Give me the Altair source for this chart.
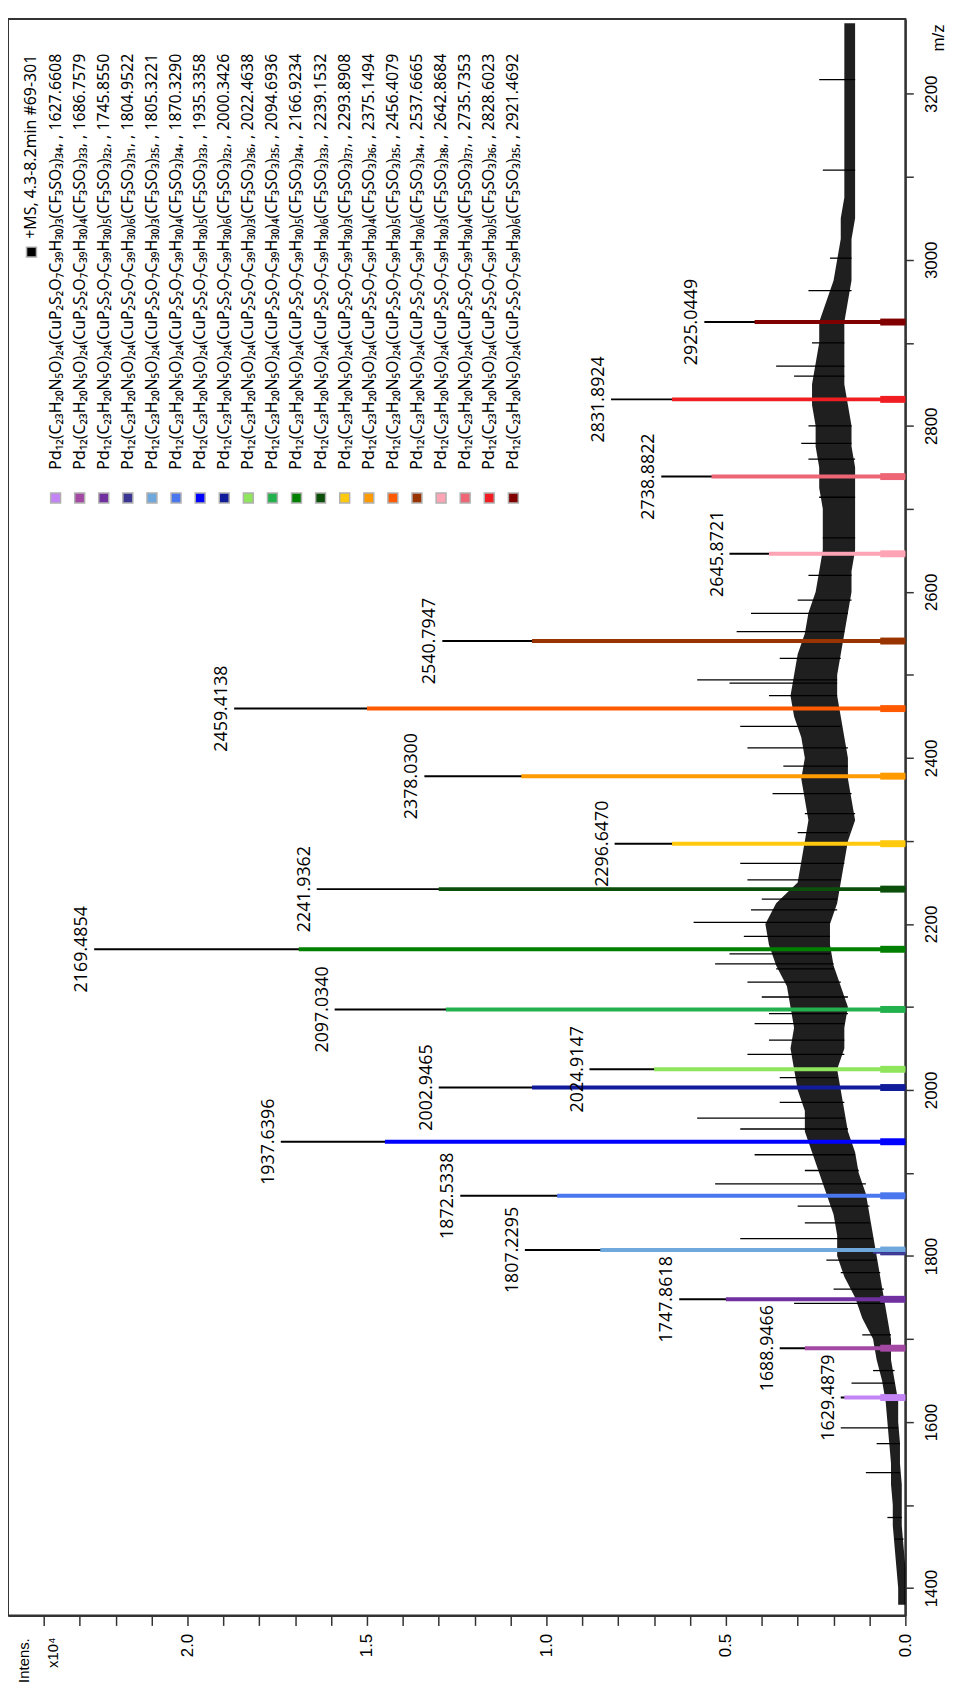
import altair as alt
import pandas as pd

# ---------------- data ----------------
# black spectrum: noise band (low / high envelope) sampled along m/z
BAND_MZ = [1380, 1400, 1425, 1450, 1475, 1500, 1525, 1550, 1575, 1600, 1625, 1650, 1675, 1700,
           1725, 1750, 1775, 1800, 1825, 1850, 1875, 1900, 1925, 1950, 1975, 2000, 2025, 2050,
           2075, 2100, 2125, 2150, 2175, 2200, 2225, 2250, 2275, 2300, 2325, 2350, 2375, 2400,
           2425, 2450, 2475, 2500, 2525, 2550, 2575, 2600, 2625, 2650, 2675, 2700, 2725, 2750,
           2775, 2800, 2825, 2850, 2875, 2900, 2925, 2950, 2975, 3000, 3025, 3050, 3075, 3100,
           3125, 3150, 3175, 3200, 3225, 3250, 3275, 3285]
BAND_LO = [0.00, 0.00, 0.00, 0.005, 0.01, 0.01, 0.01, 0.015, 0.015, 0.02, 0.02, 0.03, 0.04, 0.04,
           0.05, 0.06, 0.07, 0.08, 0.09, 0.10, 0.11, 0.13, 0.14, 0.16, 0.17, 0.18, 0.19, 0.17,
           0.17, 0.16, 0.18, 0.20, 0.21, 0.21, 0.19, 0.18, 0.17, 0.16, 0.14, 0.15, 0.16, 0.16,
           0.17, 0.18, 0.19, 0.19, 0.18, 0.17, 0.16, 0.15, 0.15, 0.14, 0.14, 0.14, 0.14, 0.14,
           0.15, 0.15, 0.16, 0.17, 0.17, 0.17, 0.17, 0.16, 0.15, 0.15, 0.15, 0.14, 0.14, 0.14,
           0.14, 0.14, 0.14, 0.14, 0.14, 0.14, 0.14, 0.14]
BAND_HI = [0.02, 0.02, 0.025, 0.03, 0.035, 0.035, 0.04, 0.04, 0.045, 0.05, 0.055, 0.065, 0.08, 0.09,
           0.12, 0.14, 0.17, 0.19, 0.19, 0.20, 0.22, 0.24, 0.26, 0.28, 0.28, 0.30, 0.31, 0.32,
           0.31, 0.32, 0.33, 0.36, 0.38, 0.39, 0.36, 0.30, 0.29, 0.28, 0.27, 0.28, 0.29, 0.28,
           0.29, 0.31, 0.32, 0.31, 0.30, 0.28, 0.27, 0.25, 0.24, 0.23, 0.23, 0.23, 0.24, 0.24,
           0.25, 0.25, 0.26, 0.26, 0.25, 0.24, 0.24, 0.22, 0.20, 0.19, 0.18, 0.18, 0.17, 0.17,
           0.17, 0.17, 0.17, 0.17, 0.17, 0.17, 0.17, 0.17]

# unlabelled spikes of the black spectrum
SPIKE_MZ = [1459, 1485, 1539, 1574, 1593, 1647, 1662, 1705, 1743, 1760, 1780, 1795, 1821, 1840,
            1860, 1887, 1903, 1922, 1953, 1966, 1985, 2015, 2043, 2060, 2080, 2092, 2112, 2130,
            2146, 2152, 2164, 2185, 2202, 2217, 2230, 2253, 2273, 2310, 2333, 2357, 2390, 2412,
            2438, 2475, 2490, 2494, 2520, 2552, 2574, 2590, 2620, 2665, 2714, 2760, 2779, 2800,
            2860, 2872, 2900, 2963, 3002, 3108, 3217]
SPIKE_I = [0.03, 0.05, 0.11, 0.08, 0.18, 0.15, 0.09, 0.12, 0.31, 0.20, 0.18, 0.22, 0.46, 0.28,
           0.30, 0.53, 0.28, 0.42, 0.46, 0.58, 0.35, 0.35, 0.44, 0.38, 0.42, 0.38, 0.40, 0.44,
           0.36, 0.53, 0.49, 0.45, 0.59, 0.43, 0.40, 0.44, 0.46, 0.30, 0.28, 0.37, 0.34, 0.44,
           0.46, 0.38, 0.49, 0.58, 0.35, 0.47, 0.43, 0.30, 0.27, 0.23, 0.24, 0.27, 0.29, 0.27,
           0.31, 0.36, 0.26, 0.27, 0.21, 0.23, 0.24]

# labelled peaks (m/z, intensity x10^4)
PEAK_LABEL = ["1629.4879", "1688.9466", "1747.8618", "1807.2295", "1872.5338", "1937.6396",
              "2002.9465", "2024.9147", "2097.0340", "2169.4854", "2241.9362", "2296.6470",
              "2378.0300", "2459.4138", "2540.7947", "2645.8721", "2738.8822", "2831.8924",
              "2925.0449"]
PEAK_I = [0.18, 0.35, 0.63, 1.06, 1.24, 1.74, 1.30, 0.88, 1.59, 2.26, 1.64, 0.81, 1.34, 1.87,
          1.29, 0.49, 0.68, 0.82, 0.56]

# simulated isotope patterns (legend order)
SIM_MZ = [1629.49, 1688.95, 1747.86, 1805.0, 1807.23, 1872.53, 1937.64, 2002.95, 2024.91,
          2097.03, 2169.49, 2241.94, 2296.65, 2378.03, 2459.41, 2540.79, 2645.87, 2738.88,
          2831.89, 2925.04]
SIM_I = [0.17, 0.28, 0.50, 0.09, 0.85, 0.97, 1.45, 1.04, 0.70, 1.28, 1.69, 1.30, 0.65, 1.07,
         1.50, 1.04, 0.38, 0.54, 0.65, 0.42]
SIM_COLOR = ["#c384f5", "#a349a4", "#7030a0", "#3b3593", "#6fa8dc", "#4a76ee", "#0000ff",
             "#101c99", "#8fe55b", "#22b14c", "#008000", "#0b4f0b", "#ffc90e", "#ff9a00",
             "#ff5a00", "#993300", "#ffa4b4", "#ee6675", "#f01e23", "#800000"]
SIM_N = ["3", "4", "5", "6", "3", "4", "5", "6", "3", "4", "5", "6", "3", "4", "5", "6",
         "3", "4", "5", "6"]
SIM_TF = ["₃₄", "₃₃", "₃₂", "₃₁", "₃₅", "₃₄", "₃₃", "₃₂", "₃₆", "₃₅", "₃₄", "₃₃", "₃₇", "₃₆",
          "₃₅", "₃₄", "₃₈", "₃₇", "₃₆", "₃₅"]
SIM_THEO = ["1627.6608", "1686.7579", "1745.8550", "1804.9522", "1805.3221", "1870.3290",
            "1935.3358", "2000.3426", "2022.4638", "2094.6936", "2166.9234", "2239.1532",
            "2293.8908", "2375.1494", "2456.4079", "2537.6665", "2642.8684", "2735.7353",
            "2828.6023", "2921.4692"]
MS_LEGEND = "+MS, 4.3-8.2min #69-301"

SUB = str.maketrans("0123456789", "₀₁₂₃₄₅₆₇₈₉")

# ---------------- frames ----------------
band = pd.DataFrame({"mz": BAND_MZ, "lo": BAND_LO, "hi": BAND_HI})
spk = pd.DataFrame({"mz": SPIKE_MZ, "I": SPIKE_I})
near = [min(range(len(BAND_MZ)), key=lambda k: abs(BAND_MZ[k] - m)) for m in SPIKE_MZ]
spk["base"] = [BAND_LO[k] for k in near]
peaks = pd.DataFrame({"mz": [float(s) for s in PEAK_LABEL], "I": PEAK_I, "label": PEAK_LABEL})
peaks["zero"] = 0.0
sim = pd.DataFrame({"mz": SIM_MZ, "I": SIM_I, "color": SIM_COLOR})
sim["zero"] = 0.0
sim["foot"] = [min(0.07, v) for v in SIM_I]

leg = pd.DataFrame({
    "idx": list(range(1, 21)),
    "color": SIM_COLOR,
    "text": ["Pd₁₂(C₂₃H₂₀N₅O)₂₄(CuP₂S₂O₇C₃₉H₃₀)" + n.translate(SUB) + "(CF₃SO₃)" + tf + ", , " + th
             for n, tf, th in zip(SIM_N, SIM_TF, SIM_THEO)],
})
leg0 = pd.DataFrame({"idx": [0], "color": ["#000000"], "text": [MS_LEGEND]})

# ---------------- scales / axes ----------------
XS = alt.Scale(domain=[0, 2.5], reverse=True, nice=False, zero=False)
YS = alt.Scale(domain=[1367, 3290], nice=False, zero=False)
AXIS_FONT = "Liberation Sans"
XAX = alt.Axis(values=[round(i * 0.1, 1) for i in range(25)],
               labelExpr="(round(datum.value*10) % 5 == 0) ? format(datum.value, '.1f') : ''",
               labelAngle=270, labelAlign="right", labelBaseline="middle",
               labelFont=AXIS_FONT, labelFontSize=17, labelColor="#000",
               labelPadding=8, labelFlush=False, labelOverlap=False,
               tickSize=10, tickWidth=1.5, tickColor="#333",
               domainColor="#333", domainWidth=2, grid=False, title=None, orient="bottom")
YAX = alt.Axis(values=list(range(1400, 3300, 100)),
               labelExpr="(datum.value % 200 == 0) ? ('' + datum.value) : ''",
               labelAngle=270, labelAlign="center", labelBaseline="top",
               labelFont=AXIS_FONT, labelFontSize=17, labelColor="#000",
               labelPadding=10, labelFlush=False, labelOverlap=False,
               tickSize=8, tickWidth=1.5, tickColor="#333",
               domainColor="#333", domainWidth=2, grid=False, title=None, orient="right")


def xq(f):
    return alt.X(f + ":Q", scale=XS, axis=XAX)


def yq(f):
    return alt.Y(f + ":Q", scale=YS, axis=YAX)


band_area = alt.Chart(band).mark_area(orient="horizontal", color="black", opacity=0.88).encode(
    y=yq("mz"), x=xq("lo"), x2="hi:Q")
spikes = alt.Chart(spk).mark_rule(color="black", strokeWidth=1.3).encode(
    y=yq("mz"), x=xq("base"), x2="I:Q")
peak_rules = alt.Chart(peaks).mark_rule(color="black", strokeWidth=2).encode(
    y=yq("mz"), x=xq("zero"), x2="I:Q")
sim_foot = alt.Chart(sim).mark_rule(strokeWidth=7).encode(
    y=yq("mz"), x=xq("zero"), x2="foot:Q", color=alt.Color("color:N", scale=None))
sim_main = alt.Chart(sim).mark_rule(strokeWidth=4).encode(
    y=yq("mz"), x=xq("zero"), x2="I:Q", color=alt.Color("color:N", scale=None))
labels = alt.Chart(peaks).mark_text(angle=270, align="center", baseline="bottom", dy=-3,
                                    font="Open Sans", fontSize=18, color="black").encode(
    y=yq("mz"), x=xq("I"), text="label:N")

main = alt.layer(band_area, spikes, peak_rules, sim_foot, sim_main, labels)

LX = alt.Scale(domain=[-0.975, 36.27], nice=False, zero=False)
leg_text = alt.Chart(leg).mark_text(angle=270, align="right", baseline="middle",
                                    font="Noto Sans", fontSize=16, color="black").encode(
    x=alt.X("idx:Q", scale=LX, axis=None), y=alt.value(35), text="text:N")
leg_sq = alt.Chart(leg).mark_square(size=100, opacity=1, stroke="#b0b0b0", strokeWidth=1.5).encode(
    x=alt.X("idx:Q", scale=LX, axis=None), y=alt.value(483),
    fill=alt.Fill("color:N", scale=None))
leg0_text = alt.Chart(leg0).mark_text(angle=270, align="right", baseline="middle",
                                      font="Noto Sans", fontSize=16, color="black").encode(
    x=alt.X("idx:Q", scale=LX, axis=None), y=alt.value(36), text="text:N")
leg0_sq = alt.Chart(leg0).mark_square(size=100, opacity=1, stroke="#b0b0b0", strokeWidth=1.5).encode(
    x=alt.X("idx:Q", scale=LX, axis=None), y=alt.value(235),
    fill=alt.Fill("color:N", scale=None))

ttl = pd.DataFrame({"t": ["Intens.", "x10⁴", "m/z"]})
t_int = alt.Chart(ttl).transform_filter("datum.t == 'Intens.'").mark_text(
    angle=270, align="left", baseline="middle", font=AXIS_FONT, fontSize=15, color="black").encode(
    x=alt.value(16), y=alt.value(1678), text="t:N")
t_x10 = alt.Chart(ttl).transform_filter("datum.t == 'x10⁴'").mark_text(
    angle=270, align="left", baseline="middle", font=AXIS_FONT, fontSize=15, color="black").encode(
    x=alt.value(45), y=alt.value(1663), text="t:N")
t_mz = alt.Chart(ttl).transform_filter("datum.t == 'm/z'").mark_text(
    angle=270, align="center", baseline="middle", font=AXIS_FONT, fontSize=17, color="black").encode(
    x=alt.value(939), y=alt.value(19), text="t:N")

legend = alt.layer(leg_text, leg_sq, leg0_text, leg0_sq, t_int, t_x10, t_mz)

chart = alt.layer(main, legend).resolve_scale(x="independent").properties(
    width=905, height=1610,
    padding={"left": 0, "top": 4, "right": 0, "bottom": 0},
).configure_view(stroke="#333", strokeWidth=2)

chart.save("out.html", embed_options={"renderer": "svg", "actions": False})
